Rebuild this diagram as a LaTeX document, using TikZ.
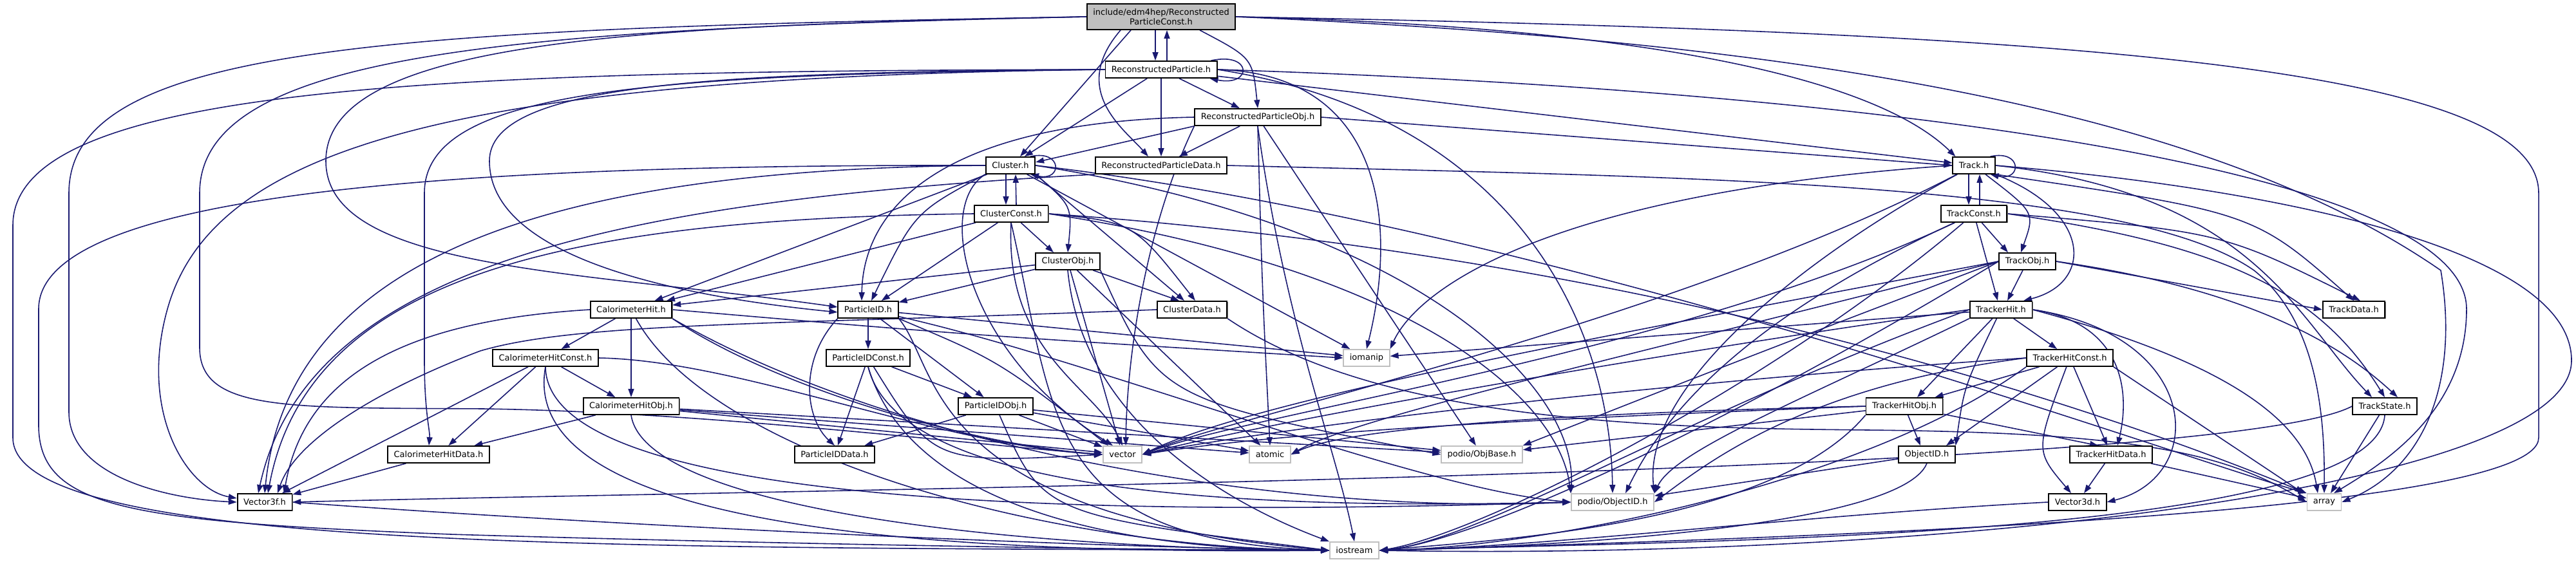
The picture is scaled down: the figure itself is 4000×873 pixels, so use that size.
\documentclass[tikz,border=0pt]{standalone}
\usepackage{fontspec}
\setmainfont{DejaVu Sans}
\usetikzlibrary{arrows.meta,shadows}
\definecolor{edgeblue}{HTML}{191970}
\definecolor{extgray}{HTML}{BFBFBF}
\definecolor{rootgray}{HTML}{BFBFBF}
\pgfdeclarelayer{bg}
\pgfsetlayers{bg,main}
\tikzset{
  hbox/.style={draw=black, fill=white, line width=0.5pt, minimum height=0.26cm,
    inner xsep=0.095cm, inner ysep=0pt, font=\fontsize{3.7pt}{4.4pt}\selectfont,
    drop shadow={shadow xshift=0.012cm, shadow yshift=-0.012cm, fill=black!55, opacity=1}},
  xbox/.style={draw=extgray, fill=white, line width=0.5pt, minimum height=0.26cm,
    inner xsep=0.095cm, inner ysep=0pt, font=\fontsize{3.7pt}{4.4pt}\selectfont},
  rootbox/.style={hbox, fill=rootgray, align=center, minimum height=0.40cm},
  dep/.style={draw=edgeblue, line width=0.45pt, -{Triangle[length=0.13cm,width=0.09cm]}}
}
\begin{document}
\begin{tikzpicture}[x=0.01cm,y=-0.01cm]
\useasboundingbox (0,0) rectangle (4000,873);
% ---------- nodes ----------
\node[rootbox] (rpc) at (1803,26) {include/edm4hep/Reconstructed\\ParticleConst.h};
\node[hbox] (RP) at (1803,108) {ReconstructedParticle.h};
\node[hbox] (RPObj) at (1953,182) {ReconstructedParticleObj.h};
\node[hbox] (Cluster) at (1569,257) {Cluster.h};
\node[hbox] (RPData) at (1803,257) {ReconstructedParticleData.h};
\node[hbox] (Track) at (3065,257) {Track.h};
\node[hbox] (ClusterConst) at (1570,332) {ClusterConst.h};
\node[hbox] (TrackConst) at (3065,332) {TrackConst.h};
\node[hbox] (ClusterObj) at (1658,406) {ClusterObj.h};
\node[hbox] (TrackObj) at (3148,406) {TrackObj.h};
\node[hbox] (CaloHit) at (980,481) {CalorimeterHit.h};
\node[hbox] (PID) at (1348,481) {ParticleID.h};
\node[hbox] (ClusterData) at (1851,481) {ClusterData.h};
\node[hbox] (TrackerHit) at (3107,481) {TrackerHit.h};
\node[hbox] (TrackData) at (3655,481) {TrackData.h};
\node[hbox] (CaloHitConst) at (847,556) {CalorimeterHitConst.h};
\node[hbox] (PIDConst) at (1348,556) {ParticleIDConst.h};
\node[xbox] (iomanip) at (2122,556) {iomanip};
\node[hbox] (TrackerHitConst) at (3214,556) {TrackerHitConst.h};
\node[hbox] (CaloHitObj) at (980,631) {CalorimeterHitObj.h};
\node[hbox] (PIDObj) at (1546,631) {ParticleIDObj.h};
\node[hbox] (TrackerHitObj) at (2957,631) {TrackerHitObj.h};
\node[hbox] (TrackState) at (3703,631) {TrackState.h};
\node[hbox] (CaloHitData) at (681,706) {CalorimeterHitData.h};
\node[hbox] (PIDData) at (1296,706) {ParticleIDData.h};
\node[xbox] (vector) at (1743,706) {vector};
\node[xbox] (atomic) at (1972,706) {atomic};
\node[xbox] (ObjBase) at (2301,706) {podio/ObjBase.h};
\node[hbox] (ObjectID) at (2992,706) {ObjectID.h};
\node[hbox] (TrackerHitData) at (3278,706) {TrackerHitData.h};
\node[hbox] (Vector3f) at (411,780) {Vector3f.h};
\node[xbox] (podioObjectID) at (2504,780) {podio/ObjectID.h};
\node[hbox] (Vector3d) at (3226,780) {Vector3d.h};
\node[xbox] (array) at (3609,780) {array};
\node[xbox] (iostream) at (2103,855) {iostream};
% ---------- edges ----------
\begin{pgfonlayer}{bg}
% root
\draw[dep] ([xshift=-0.09cm]rpc.south) -- ([xshift=-0.09cm]RP.north);
\draw[dep] ([xshift=0.09cm]RP.north) -- ([xshift=0.09cm]rpc.south);
\draw[dep] ([xshift=-0.47cm]rpc.south) -- ([xshift=0.15cm]Cluster.north);
\draw[dep] ([xshift=-0.63cm]rpc.south) .. controls (1660,140) and (1745,200) .. ([xshift=-0.2cm]RPData.north);
\draw[dep] ([xshift=0.6cm]rpc.south) .. controls (1945,90) .. (RPObj.north);
\draw[dep] (rpc.east) .. controls (2500,40) and (2900,110) .. ([xshift=0.05cm]Track.north west);
\draw[dep] (rpc.east) .. controls (2700,60) and (3400,150) .. (3790,420) .. controls (3820,600) and (3760,730) .. (array.east);
\draw[dep] (rpc.east) .. controls (3200,50) and (3942,100) .. (3942,300) -- (3942,680) .. controls (3942,800) and (2800,835) .. (iostream.east);
\draw[dep] (rpc.west) .. controls (600,45) and (107,70) .. (107,300) -- (107,640) .. controls (107,740) and (260,775) .. (Vector3f.west);
\draw[dep] (rpc.west) .. controls (800,45) and (310,80) .. (310,300) -- (310,540) .. controls (310,640) and (450,633) .. (750,635) .. controls (1100,640) and (1500,690) .. (vector.west);
\draw[dep] (rpc.west) .. controls (1000,40) and (506,60) .. (506,250) .. controls (506,420) and (900,420) .. ([yshift=0.04cm]PID.west);
% ReconstructedParticle.h
\draw[dep] (RP) -- (RPObj);
\draw[dep] (RP) -- (RPData);
\draw[dep] (RP) -- (Cluster);
\draw[dep] (RP) -- (Track);
\draw[dep] ([xshift=-0.1cm]RP.north east) .. controls (1945,80) and (1945,135) .. ([xshift=-0.12cm]RP.south east);
\draw[dep] (RP.west) .. controls (1100,112) and (760,130) .. (760,250) .. controls (760,400) and (1050,460) .. ([yshift=-0.04cm]PID.west);
\draw[dep] (RP.west) .. controls (700,120) and (330,230) .. (260,480) .. controls (215,640) and (290,760) .. ([yshift=0.06cm]Vector3f.west);
\draw[dep] (RP.west) .. controls (1000,115) and (659,140) .. (659,300) -- (659,560) .. controls (659,640) and (668,670) .. ([xshift=-0.15cm]CaloHitData.north);
\draw[dep] (RP.west) .. controls (700,110) and (20,130) .. (20,350) -- (20,680) .. controls (20,860) and (1000,850) .. (iostream.west);
\draw[dep] (RP.east) .. controls (2900,140) and (3830,260) .. (3830,480) .. controls (3830,640) and (3700,720) .. ([xshift=0.15cm]array.north);
\draw[dep] (RP.east) .. controls (2350,180) and (2500,500) .. (podioObjectID.north);
\draw[dep] (RP.east) .. controls (2150,115) and (2170,350) .. (iomanip.north);
% ReconstructedParticleObj.h
\draw[dep] (RPObj.south west) -- ([yshift=0.05cm]Cluster.east);
\draw[dep] (RPObj) -- (RPData);
\draw[dep] (RPObj.east) -- (Track.west);
\draw[dep] (RPObj.west) .. controls (1450,190) and (1340,330) .. ([xshift=-0.1cm]PID.north);
\draw[dep] (RPObj.south west) .. controls (1780,350) and (1750,550) .. ([xshift=0.05cm]vector.north);
\draw[dep] (RPObj.south) .. controls (1960,450) .. (atomic.north);
\draw[dep] (RPObj) -- (ObjBase);
\draw[dep] (RPObj.south) .. controls (1995,500) and (2075,700) .. (iostream.north);
% ReconstructedParticleData.h
\draw[dep] (RPData.south west) .. controls (1000,310) and (480,400) .. ([xshift=-0.1cm]Vector3f.north);
\draw[dep] (RPData.east) .. controls (2600,275) and (3300,280) .. (3500,420) .. controls (3600,500) and (3610,650) .. (array.north);
% Cluster.h
\draw[dep] ([xshift=-0.07cm]Cluster.south) -- ([xshift=-0.08cm]ClusterConst.north);
\draw[dep] ([xshift=0.08cm]ClusterConst.north) -- ([xshift=0.08cm]Cluster.south);
\draw[dep] ([xshift=-0.08cm]Cluster.north east) .. controls (1650,232) and (1650,282) .. ([xshift=-0.08cm]Cluster.south east);
\draw[dep] (Cluster.south east) .. controls (1665,320) .. (ClusterObj.north);
\draw[dep] (Cluster.south east) -- ([xshift=-0.12cm]ClusterData.north);
\draw[dep] (Cluster) -- (CaloHit);
\draw[dep] (Cluster.south west) .. controls (1420,330) .. ([xshift=0.05cm]PID.north);
\draw[dep] (Cluster.west) .. controls (900,262) and (450,380) .. (Vector3f.north);
\draw[dep] (Cluster.south west) .. controls (1450,320) and (1500,550) .. ([xshift=-0.15cm]vector.north);
\draw[dep] (Cluster.east) .. controls (2400,350) and (3350,700) .. (array.north west);
\draw[dep] (Cluster.east) .. controls (2200,350) and (2450,600) .. (podioObjectID.north west);
\draw[dep] (Cluster) -- (iomanip);
\draw[dep] (Cluster.west) .. controls (700,255) and (60,300) .. (60,480) -- (60,660) .. controls (60,790) and (200,810) .. (700,830) .. controls (1200,845) and (1800,855) .. (iostream.west);
% ClusterConst.h
\draw[dep] (ClusterConst) -- ([xshift=-0.22cm]ClusterObj.north);
\draw[dep] (ClusterConst.east) .. controls (1760,345) .. ([xshift=0.05cm]ClusterData.north);
\draw[dep] (ClusterConst) -- (CaloHit);
\draw[dep] (ClusterConst) -- (PID);
\draw[dep] (ClusterConst.west) .. controls (900,340) and (480,420) .. ([xshift=0.05cm]Vector3f.north);
\draw[dep] (ClusterConst.east) .. controls (2600,400) and (3300,650) .. (array.north west);
\draw[dep] (ClusterConst.south) .. controls (1560,550) and (1700,600) .. (vector.north);
\draw[dep] (ClusterConst.east) .. controls (2200,420) and (2420,620) .. (podioObjectID.north west);
\draw[dep] (ClusterConst.south) .. controls (1640,650) and (1620,840) .. (iostream.west);
% ClusterObj.h
\draw[dep] (ClusterObj) -- ([xshift=-0.2cm]ClusterData.north);
\draw[dep] (ClusterObj) -- (CaloHit);
\draw[dep] (ClusterObj) -- (PID);
\draw[dep] (ClusterObj) -- (vector);
\draw[dep] (ClusterObj) -- (atomic);
\draw[dep] (ClusterObj.south east) .. controls (1800,620) .. (ObjBase.west);
\draw[dep] (ClusterObj.south) .. controls (1680,650) and (1900,780) .. (iostream.north west);
% ClusterData.h
\draw[dep] (ClusterData.west) .. controls (1200,505) and (900,500) .. (746,545) .. controls (600,600) and (460,680) .. ([xshift=0.2cm]Vector3f.north);
\draw[dep] (ClusterData.south east) .. controls (2150,660) and (2600,665) .. (2900,668) .. controls (3300,672) and (3450,700) .. (array.west);
% CalorimeterHit.h
\draw[dep] (CaloHit) -- (CaloHitConst);
\draw[dep] (CaloHit) -- (CaloHitObj);
\draw[dep] (CaloHit.west) .. controls (600,500) and (470,600) .. ([xshift=0.3cm]Vector3f.north);
\draw[dep] (CaloHit.south east) .. controls (1200,600) and (1500,690) .. (vector.west);
\draw[dep] (CaloHit.south east) .. controls (1400,700) and (2000,800) .. (podioObjectID.west);
\draw[dep] (CaloHit) .. controls (1100,700) and (1600,850) .. (iostream.west);
\draw[dep] (CaloHit.east) .. controls (1500,520) .. (iomanip.west);
% CalorimeterHitConst.h
\draw[dep] (CaloHitConst) -- (CaloHitObj);
\draw[dep] (CaloHitConst) -- (CaloHitData);
\draw[dep] (CaloHitConst) -- (Vector3f);
\draw[dep] (CaloHitConst.east) .. controls (1150,560) and (1450,690) .. (vector.west);
\draw[dep] (CaloHitConst.south) .. controls (850,800) and (1800,800) .. (podioObjectID.west);
\draw[dep] (CaloHitConst.south) .. controls (800,830) and (1500,860) .. (iostream.west);
% CalorimeterHitObj.h
\draw[dep] (CaloHitObj) -- (CaloHitData);
\draw[dep] (CaloHitObj) -- (vector);
\draw[dep] (CaloHitObj) -- (atomic);
\draw[dep] (CaloHitObj) -- (ObjBase);
\draw[dep] (CaloHitObj.south) .. controls (1000,780) and (1500,850) .. (iostream.west);
\draw[dep] (CaloHitData) -- (Vector3f);
% ParticleID.h
\draw[dep] (PID) -- (PIDConst);
\draw[dep] (PID) -- (PIDObj);
\draw[dep] (PID.south west) .. controls (1240,560) and (1250,650) .. (PIDData.north);
\draw[dep] (PID.south east) .. controls (1550,560) .. ([xshift=-0.22cm]vector.north);
\draw[dep] (PID) .. controls (1700,560) and (2200,760) .. (podioObjectID.west);
\draw[dep] (PID.south east) .. controls (1460,570) and (1430,800) .. (iostream.west);
\draw[dep] (PID) -- (iomanip);
% ParticleIDConst.h
\draw[dep] (PIDConst) -- (PIDObj);
\draw[dep] (PIDConst) -- (PIDData);
\draw[dep] (PIDConst) .. controls (1450,720) .. (vector.west);
\draw[dep] (PIDConst.south) .. controls (1400,780) and (2000,790) .. (podioObjectID.west);
\draw[dep] (PIDConst.south) .. controls (1420,810) and (1800,855) .. (iostream.west);
% ParticleIDObj.h
\draw[dep] (PIDObj) -- (PIDData);
\draw[dep] (PIDObj) -- (vector);
\draw[dep] (PIDObj) -- (atomic);
\draw[dep] (PIDObj) -- (ObjBase);
\draw[dep] (PIDObj) .. controls (1620,800) .. (iostream.west);
% Track.h
\draw[dep] ([xshift=-0.08cm]Track.south) -- ([xshift=-0.08cm]TrackConst.north);
\draw[dep] ([xshift=0.09cm]TrackConst.north) -- ([xshift=0.09cm]Track.south);
\draw[dep] ([xshift=-0.08cm]Track.north east) .. controls (3140,232) and (3140,282) .. ([xshift=-0.08cm]Track.south east);
\draw[dep] (Track) .. controls (3160,330) .. ([xshift=-0.1cm]TrackObj.north);
\draw[dep] (Track.south east) .. controls (3500,330) .. (TrackData.north);
\draw[dep] (Track.south east) .. controls (3250,330) and (3250,440) .. ([xshift=0.35cm]TrackerHit.north);
\draw[dep] (Track.east) .. controls (3500,300) and (3570,500) .. ([xshift=-0.2cm]TrackState.north);
\draw[dep] (Track) .. controls (2600,500) and (1900,650) .. (vector.east);
\draw[dep] (Track) .. controls (2800,400) and (2550,600) .. (podioObjectID.north east);
\draw[dep] (Track.east) .. controls (3500,290) and (3993,380) .. (3993,560) .. controls (3993,760) and (3000,870) .. (iostream.east);
\draw[dep] (Track.west) .. controls (2400,300) and (2200,450) .. (iomanip.north east);
% TrackConst.h
\draw[dep] (TrackConst) -- ([xshift=-0.3cm]TrackObj.north);
\draw[dep] (TrackConst.east) .. controls (3450,360) .. ([xshift=0.1cm]TrackData.north);
\draw[dep] (TrackConst) -- ([xshift=-0.05cm]TrackerHit.north);
\draw[dep] (TrackConst.east) .. controls (3450,380) and (3600,450) .. (TrackState.north);
\draw[dep] (TrackConst) .. controls (2600,550) and (1950,640) .. (vector.east);
\draw[dep] (TrackConst) .. controls (2700,500) and (2580,650) .. ([xshift=0.2cm]podioObjectID.north);
\draw[dep] (TrackConst) .. controls (2750,600) and (2300,830) .. (iostream.east);
% TrackObj.h
\draw[dep] (TrackObj.east) -- (TrackData.west);
\draw[dep] (TrackObj) -- ([xshift=0.1cm]TrackerHit.north);
\draw[dep] (TrackObj.east) .. controls (3500,450) and (3640,540) .. ([xshift=0.2cm]TrackState.north);
\draw[dep] (TrackObj.west) .. controls (2500,520) and (1950,620) .. (vector.east);
\draw[dep] (TrackObj.west) .. controls (2500,560) and (2100,650) .. (atomic.east);
\draw[dep] (TrackObj.west) .. controls (2700,560) .. (ObjBase.north east);
\draw[dep] (TrackObj.west) .. controls (2700,650) and (2300,840) .. (iostream.east);
% TrackerHit.h
\draw[dep] (TrackerHit) -- (TrackerHitConst);
\draw[dep] (TrackerHit) -- ([xshift=0.2cm]TrackerHitObj.north);
\draw[dep] (TrackerHit.east) .. controls (3290,500) and (3310,600) .. ([xshift=0.1cm]TrackerHitData.north);
\draw[dep] (TrackerHit) .. controls (3050,600) .. (ObjectID.north east);
\draw[dep] (TrackerHit.east) .. controls (3420,520) and (3430,740) .. (Vector3d.east);
\draw[dep] (TrackerHit.east) .. controls (3450,560) and (3580,650) .. ([xshift=-0.1cm]array.north);
\draw[dep] (TrackerHit.west) .. controls (2500,560) and (1950,660) .. (vector.east);
\draw[dep] (TrackerHit.south west) .. controls (2800,620) and (2600,700) .. (podioObjectID.north east);
\draw[dep] (TrackerHit.west) .. controls (2600,650) and (2300,840) .. (iostream.east);
\draw[dep] (TrackerHit) -- (iomanip);
% TrackerHitConst.h
\draw[dep] (TrackerHitConst) -- (TrackerHitObj);
\draw[dep] (TrackerHitConst) -- (TrackerHitData);
\draw[dep] (TrackerHitConst) -- ([xshift=0.3cm]ObjectID.north);
\draw[dep] (TrackerHitConst) .. controls (3160,700) .. ([xshift=-0.1cm]Vector3d.north);
\draw[dep] (TrackerHitConst.south east) -- ([xshift=-0.05cm]array.north west);
\draw[dep] (TrackerHitConst.west) .. controls (2500,600) and (1950,670) .. (vector.east);
\draw[dep] (TrackerHitConst.west) .. controls (2800,600) and (2650,720) .. (podioObjectID.east);
\draw[dep] (TrackerHitConst.south west) .. controls (2900,750) and (2400,850) .. (iostream.east);
% TrackerHitObj.h
\draw[dep] (TrackerHitObj) -- ([xshift=-0.2cm]TrackerHitData.north);
\draw[dep] (TrackerHitObj) -- ([xshift=-0.1cm]ObjectID.north);
\draw[dep] (TrackerHitObj.west) .. controls (2400,650) and (2000,670) .. (vector.east);
\draw[dep] (TrackerHitObj.west) .. controls (2500,640) and (2100,660) .. (atomic.east);
\draw[dep] (TrackerHitObj) -- (ObjBase);
\draw[dep] (TrackerHitObj.south west) .. controls (2750,820) and (2300,840) .. (iostream.east);
% TrackerHitData.h, TrackState.h and components
\draw[dep] (TrackerHitData) -- ([xshift=0.1cm]Vector3d.north);
\draw[dep] (TrackerHitData) -- (array);
\draw[dep] (TrackState.west) .. controls (3450,740) and (1200,760) .. (Vector3f.east);
\draw[dep] (TrackState) -- ([xshift=0.1cm]array.north);
\draw[dep] (TrackState.south) .. controls (3690,840) and (2600,840) .. (iostream.east);
\draw[dep] (Vector3f.east) .. controls (1000,820) and (1700,850) .. (iostream.west);
\draw[dep] (Vector3d.west) .. controls (2800,800) and (2400,850) .. (iostream.east);
\draw[dep] (ObjectID) -- (podioObjectID);
\draw[dep] (ObjectID.south) .. controls (2950,820) and (2400,850) .. (iostream.east);
\end{pgfonlayer}
\end{tikzpicture}
\end{document}
